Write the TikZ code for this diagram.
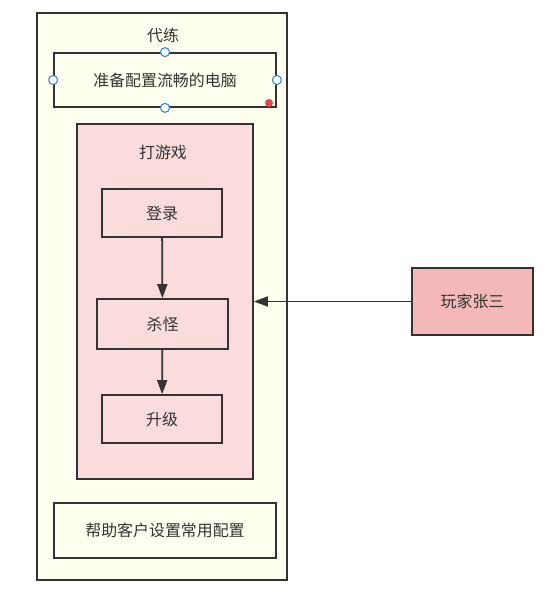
\documentclass[tikz,border=0pt]{standalone}
\usepackage{fontspec}
\setmainfont{Noto Sans CJK SC}
\usetikzlibrary{positioning,arrows.meta}
\definecolor{paleyellow}{RGB}{255,255,240}
\definecolor{palepink}{RGB}{250,220,220}
\definecolor{rosepink}{RGB}{244,184,184}
\definecolor{edgegray}{RGB}{51,51,51}
\definecolor{handleblue}{RGB}{45,135,220}
\definecolor{handlered}{RGB}{235,70,70}
\tikzset{
  frame/.style={draw=edgegray,line width=1.5pt,rectangle,inner sep=0pt,text=edgegray,font=\fontsize{13.6}{16}\selectfont},
  title/.style={text=edgegray,font=\fontsize{13.6}{16}\selectfont},
  arr/.style={-{Triangle[length=4.2mm,width=3mm]},line width=1.5pt,draw=edgegray},
  handle/.style={circle,draw=handleblue,fill=white,line width=0.9pt,inner sep=0pt,minimum size=2.7mm}
}

\begin{document}
\begin{tikzpicture}[x=0.03cm,y=-0.03cm]
\useasboundingbox[fill=white] (0,0) rectangle (558,593);

% outer container
\node[frame,fill=paleyellow,minimum width=7.5cm,minimum height=17.01cm] (outer) at (162,296.5) {};
\node[title] (outertitle) at (163,35) {代练};

\node[frame,fill=paleyellow,minimum width=6.66cm,minimum height=1.62cm] (prep) at (165,80) {准备配置流畅的电脑};

% game group
\node[frame,fill=palepink,minimum width=5.28cm,minimum height=10.65cm] (game) at (165,301.5) {};
\node[title] (gametitle) at (163,152) {打游戏};

\node[frame,fill=palepink,minimum width=3.6cm,minimum height=1.44cm] (login) at (162,213) {登录};
\node[frame,fill=palepink,minimum width=3.93cm,minimum height=1.5cm] (kill) at (162.5,324) {杀怪};
\node[frame,fill=palepink,minimum width=3.6cm,minimum height=1.44cm] (level) at (162,419) {升级};

\node[frame,fill=paleyellow,minimum width=6.66cm,minimum height=1.65cm] (help) at (165,530.5) {帮助客户设置常用配置};

\node[frame,fill=rosepink,minimum width=3.63cm,minimum height=2.01cm] (player) at (472.5,301.5) {玩家张三};

\draw[arr] (login) -- (kill);
\draw[arr] (kill) -- (level);
\draw[arr] (player) -- (game);

% selection handles
\node[handle] (hn) at (prep.north) {};
\node[handle] (hs) at (prep.south) {};
\node[handle] (hw) at (prep.west) {};
\node[handle] (he) at (prep.east) {};
\node[circle,fill=handlered,inner sep=0pt,minimum size=2.4mm] (hr) at (269,103) {};

\end{tikzpicture}
\end{document}
